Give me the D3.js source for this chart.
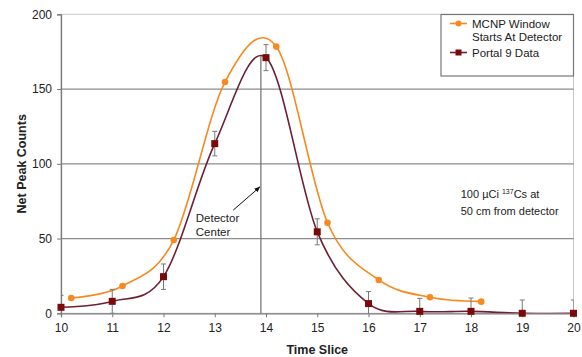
<!DOCTYPE html>
<html>
<head>
<meta charset="utf-8">
<script src="https://cdn.jsdelivr.net/npm/d3@7"></script>
<style>
  body { margin: 0; background: #fff; }
  text { font-family: "Liberation Sans", Arial, sans-serif; fill: #222; }
</style>
</head>
<body>
<div id="chart"></div>
<script>
// Portal 9 measured data
const portalSlices = [10, 11, 12, 13, 14, 15, 16, 17, 18, 19, 20];
const portalCounts = [4, 8, 24.5, 113.5, 171, 54.5, 6.5, 1.3, 1.3, 0, 0];
const portalErrors = [8, 8, 8.5, 8.2, 8.7, 8.7, 8, 8.7, 8.9, 8.9, 8.9];

// MCNP window (offset by 0.2 slice)
const mcnpSlices = [10.2, 11.2, 12.2, 13.2, 14.2, 15.2, 16.2, 17.2, 18.2];
const mcnpCounts = [10.2, 18.3, 49, 154.7, 178.4, 60.6, 22.3, 10.7, 7.8];

const xTicks = [10, 11, 12, 13, 14, 15, 16, 17, 18, 19, 20];
const yTicks = [0, 50, 100, 150, 200];
const detectorCenter = 13.9;

const width = 582,
      height = 357,
      margin = ({ top: 14.3, right: 8.5, bottom: 43.7, left: 61 });

const orange = "#f7891f",
      maroonLine = "#6e1f33",
      maroon = "#7a0a0a";

let svg = d3.select("#chart")
    .append("svg")
    .attr("width", width)
    .attr("height", height);

let x = d3.scaleLinear()
    .domain([10, 20])
    .range([margin.left, width - margin.right]);

let y = d3.scaleLinear()
    .domain([0, 200])
    .range([height - margin.bottom, margin.top]);

svg.append("clipPath")
    .attr("id", "plot")
    .append("rect")
    .attr("x", x(10))
    .attr("y", y(200))
    .attr("width", x(20) - x(10))
    .attr("height", y(0) - y(200));

// plot border + gridlines
svg.append("rect")
    .attr("x", x(10)).attr("y", y(200))
    .attr("width", x(20) - x(10)).attr("height", y(0) - y(200))
    .attr("fill", "none").attr("stroke", "#c8c8c8");

svg.append("g")
    .selectAll("line")
    .data(yTicks.filter(d => d > 0 && d < 200))
    .join("line")
    .attr("x1", x(10)).attr("x2", x(20))
    .attr("y1", d => y(d)).attr("y2", d => y(d))
    .attr("stroke", "#8c8c8c")
    .attr("stroke-width", 1.3);

// axes
let yAxis = svg.append("g")
    .attr("transform", `translate(${x(10)},0)`)
    .call(d3.axisLeft(y).tickValues(yTicks).tickSize(4).tickPadding(5));

let xAxis = svg.append("g")
    .attr("transform", `translate(0,${y(0)})`)
    .call(d3.axisBottom(x).tickValues(xTicks).tickSize(4).tickPadding(6));

[yAxis, xAxis].forEach(g => {
    g.select(".domain").attr("stroke", "#7a7a7a").attr("stroke-width", 1.3);
    g.selectAll(".tick line").attr("stroke", "#7a7a7a");
    g.selectAll("text")
        .style("font-family", "'Liberation Sans', Arial, sans-serif")
        .style("font-size", "12px")
        .style("fill", "#222");
});

// detector center line
svg.append("line")
    .attr("x1", x(detectorCenter)).attr("x2", x(detectorCenter))
    .attr("y1", y(0)).attr("y2", y(172))
    .attr("stroke", "#7a7a7a")
    .attr("stroke-width", 1.3);

let line = d3.line()
    .x(d => x(d[0]))
    .y(d => y(d[1]))
    .curve(d3.curveCardinal.tension(0));

let plot = svg.append("g").attr("clip-path", "url(#plot)");

let portal = portalSlices.map((s, i) => [s, portalCounts[i], portalErrors[i]]);
let mcnp = mcnpSlices.map((s, i) => [s, mcnpCounts[i]]);

plot.append("path")
    .datum(portal)
    .attr("d", line)
    .attr("fill", "none")
    .attr("stroke", maroonLine)
    .attr("stroke-width", 1.6);

plot.append("path")
    .datum(mcnp)
    .attr("d", line)
    .attr("fill", "none")
    .attr("stroke", orange)
    .attr("stroke-width", 1.6);

// error bars
let err = plot.selectAll(".err")
    .data(portal)
    .join("g")
    .attr("class", "err")
    .attr("stroke", "#777")
    .attr("stroke-width", 1);

err.append("line")
    .attr("x1", d => x(d[0])).attr("x2", d => x(d[0]))
    .attr("y1", d => y(d[1] - d[2])).attr("y2", d => y(d[1] + d[2]));
err.append("line")
    .attr("x1", d => x(d[0]) - 2.5).attr("x2", d => x(d[0]) + 2.5)
    .attr("y1", d => y(d[1] + d[2])).attr("y2", d => y(d[1] + d[2]));
err.append("line")
    .attr("x1", d => x(d[0]) - 2.5).attr("x2", d => x(d[0]) + 2.5)
    .attr("y1", d => y(d[1] - d[2])).attr("y2", d => y(d[1] - d[2]));

// markers
svg.selectAll(".mcnp")
    .data(mcnp)
    .join("circle")
    .attr("class", "mcnp")
    .attr("cx", d => x(d[0]))
    .attr("cy", d => y(d[1]))
    .attr("r", 3.3)
    .attr("fill", orange);

svg.selectAll(".portal")
    .data(portal)
    .join("rect")
    .attr("class", "portal")
    .attr("x", d => x(d[0]) - 3.5)
    .attr("y", d => y(d[1]) - 3.5)
    .attr("width", 7)
    .attr("height", 7)
    .attr("fill", maroon);

// annotations
let arrowTail = [13.36, 69], arrowTip = [13.88, 84.5];
svg.append("defs").append("marker")
    .attr("id", "arrow")
    .attr("viewBox", "0 0 10 10")
    .attr("refX", 9).attr("refY", 5)
    .attr("markerWidth", 6).attr("markerHeight", 6)
    .attr("orient", "auto")
    .append("path")
    .attr("d", "M0,1 L10,5 L0,9 Z")
    .attr("fill", "#111");

svg.append("line")
    .attr("x1", x(arrowTail[0])).attr("y1", y(arrowTail[1]))
    .attr("x2", x(arrowTip[0])).attr("y2", y(arrowTip[1]))
    .attr("stroke", "#111")
    .attr("stroke-width", 1)
    .attr("marker-end", "url(#arrow)");

svg.append("text")
    .attr("x", x(12.63)).attr("y", y(61))
    .style("font-size", "11.5px")
    .text("Detector");
svg.append("text")
    .attr("x", x(12.63)).attr("y", y(51.5))
    .style("font-size", "11.5px")
    .text("Center");

let src = svg.append("text")
    .attr("x", x(17.8)).attr("y", y(77))
    .style("font-size", "11px");
src.append("tspan").text("100 \u00b5Ci ");
src.append("tspan").attr("dy", -4).style("font-size", "7px").text("137");
src.append("tspan").attr("dy", 4).text("Cs at");

svg.append("text")
    .attr("x", x(17.8)).attr("y", y(65.5))
    .style("font-size", "11px")
    .text("50 cm from detector");

// axis titles
svg.append("text")
    .attr("text-anchor", "middle")
    .attr("x", (x(10) + x(20)) / 2)
    .attr("y", height - 3)
    .style("font-size", "12.5px")
    .style("font-weight", "bold")
    .text("Time Slice");

svg.append("text")
    .attr("text-anchor", "middle")
    .attr("transform", `translate(26,${(y(0) + y(200)) / 2}) rotate(-90)`)
    .style("font-size", "12.5px")
    .style("font-weight", "bold")
    .text("Net Peak Counts");

// legend
let legend = svg.append("g").attr("transform", "translate(441,14.5)");
legend.append("rect")
    .attr("width", 132.5).attr("height", 61.5)
    .attr("fill", "#fff")
    .attr("stroke", "#777")
    .attr("stroke-width", 1.2);

let legendItems = [
    { lines: ["MCNP Window", "Starts At Detector"], color: orange, shape: "circle", y: 9 },
    { lines: ["Portal 9 Data"], color: maroon, shape: "square", y: 38 }
];

legendItems.forEach(item => {
    let g = legend.append("g").attr("transform", `translate(0,${item.y})`);
    g.append("line")
        .attr("x1", 9).attr("x2", 26)
        .attr("stroke", item.shape == "circle" ? orange : maroonLine)
        .attr("stroke-width", 1.6);
    if (item.shape == "circle")
        g.append("circle").attr("cx", 17.5).attr("r", 3).attr("fill", item.color);
    else
        g.append("rect").attr("x", 14.5).attr("y", -3).attr("width", 6).attr("height", 6).attr("fill", item.color);
    item.lines.forEach((t, i) => {
        g.append("text")
            .attr("x", 31).attr("y", i * 13.5)
            .attr("dy", "0.35em")
            .style("font-size", "11.5px")
            .text(t);
    });
});
</script>
</body>
</html>
